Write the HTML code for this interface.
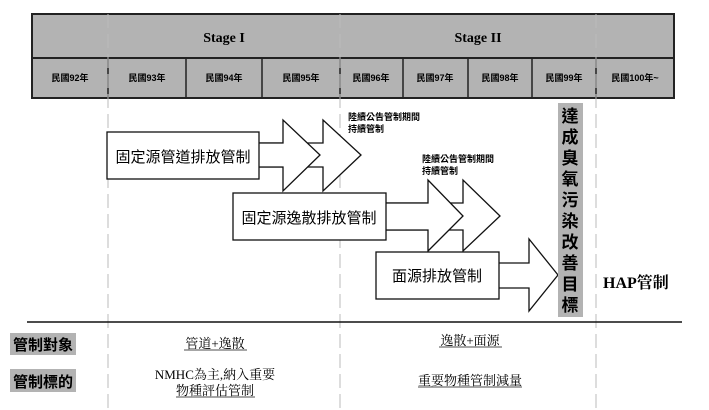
<!DOCTYPE html>
<html><head><meta charset="utf-8"><style>
html,body{margin:0;padding:0;background:#fff;}
svg{display:block;}
text{font-family:"Liberation Serif","Noto Serif CJK SC","Noto Sans CJK TC",serif;}
.c{font-family:"Liberation Sans","Noto Sans CJK TC",sans-serif;}
</style></head><body>
<svg width="709" height="410" viewBox="0 0 709 410" xmlns="http://www.w3.org/2000/svg">
<rect x="32" y="14" width="642" height="84" fill="#b3b3b3" stroke="#222" stroke-width="2"/>
<line x1="32" y1="58" x2="674" y2="58" stroke="#222" stroke-width="2"/>
<g stroke="#222" stroke-width="1.5">
<line x1="108" y1="58" x2="108" y2="98"/><line x1="186" y1="58" x2="186" y2="98"/>
<line x1="262" y1="58" x2="262" y2="98"/><line x1="340" y1="58" x2="340" y2="98"/>
<line x1="403" y1="58" x2="403" y2="98"/><line x1="468" y1="58" x2="468" y2="98"/>
<line x1="532" y1="58" x2="532" y2="98"/><line x1="596" y1="58" x2="596" y2="98"/>
</g>
<g stroke="#bbb" stroke-width="1" stroke-dasharray="14,6">
<line x1="108" y1="14" x2="108" y2="410"/><line x1="340" y1="14" x2="340" y2="410"/><line x1="596" y1="14" x2="596" y2="410"/>
</g>
<text x="224" y="42" font-size="14" font-weight="bold" text-anchor="middle">Stage I</text>
<text x="478" y="42" font-size="14" font-weight="bold" text-anchor="middle">Stage II</text>
<g font-size="9" text-anchor="middle" class="c" font-weight="bold">
<text x="70" y="81" class="c">民國92年</text><text x="147" y="81" class="c">民國93年</text>
<text x="224" y="81" class="c">民國94年</text><text x="301" y="81" class="c">民國95年</text>
<text x="371" y="81" class="c">民國96年</text><text x="435" y="81" class="c">民國97年</text>
<text x="500" y="81" class="c">民國98年</text><text x="564" y="81" class="c">民國99年</text>
<text x="635" y="81" class="c">民國100年~</text>
</g>
<g fill="#fff" stroke="#111" stroke-width="1.3">
<polygon points="250,143 323,143 323,120 361,155 323,191 323,167 250,167"/>
<polygon points="250,143 283,143 283,120 320,155 283,191 283,167 250,167"/>
<rect x="107" y="132" width="152" height="47"/>
<polygon points="380,203 463,203 463,180 500,216 463,251 463,230 380,230"/>
<polygon points="380,203 428,203 428,180 463,216 428,251 428,230 380,230"/>
<rect x="233" y="193" width="153" height="47"/>
<polygon points="490,263 529,263 529,239 558,275 529,311 529,288 490,288"/>
<rect x="376" y="252" width="123" height="47"/>
</g>
<g font-size="15" class="c">
<text x="183" y="162" text-anchor="middle" class="c">固定源管道排放管制</text>
<text x="309" y="223" text-anchor="middle" class="c">固定源逸散排放管制</text>
<text x="437" y="281" text-anchor="middle" class="c">面源排放管制</text>
</g>
<g font-size="9" font-weight="bold" class="c">
<text x="348" y="120" class="c">陸續公告管制期間</text><text x="348" y="132" class="c">持續管制</text>
<text x="422" y="162" class="c">陸續公告管制期間</text><text x="422" y="174" class="c">持續管制</text>
</g>
<rect x="558" y="103" width="25" height="214" fill="#b3b3b3"/>
<g font-size="17" font-weight="bold" text-anchor="middle" class="c">
<text x="570" y="122" class="c">達</text><text x="570" y="143" class="c">成</text><text x="570" y="164" class="c">臭</text>
<text x="570" y="185" class="c">氧</text><text x="570" y="206" class="c">污</text><text x="570" y="227" class="c">染</text>
<text x="570" y="248" class="c">改</text><text x="570" y="269" class="c">善</text><text x="570" y="290" class="c">目</text>
<text x="570" y="311" class="c">標</text>
</g>
<text x="603" y="288" font-size="16" font-weight="bold">HAP管制</text>
<line x1="27" y1="322" x2="682" y2="322" stroke="#111" stroke-width="1.5"/>
<rect x="10" y="333" width="66" height="22" fill="#b3b3b3"/>
<rect x="10" y="369" width="66" height="23" fill="#b3b3b3"/>
<text x="43" y="350" font-size="15" font-weight="bold" text-anchor="middle" class="c">管制對象</text>
<text x="43" y="387" font-size="15" font-weight="bold" text-anchor="middle" class="c">管制標的</text>
<g font-size="13" text-anchor="middle">
<text x="215" y="348">管道+逸散</text>
<text x="470" y="345">逸散+面源</text>
<text x="215" y="379">NMHC為主,納入重要</text>
<text x="215" y="395">物種評估管制</text>
<text x="470" y="385">重要物種管制減量</text>
</g>
<g stroke="#111" stroke-width="0.8">
<line x1="184" y1="350" x2="247" y2="350"/><line x1="439" y1="347" x2="502" y2="347"/>
<line x1="176" y1="397" x2="255" y2="397"/><line x1="418" y1="387" x2="522" y2="387"/>
</g>
</svg>
</body></html>
